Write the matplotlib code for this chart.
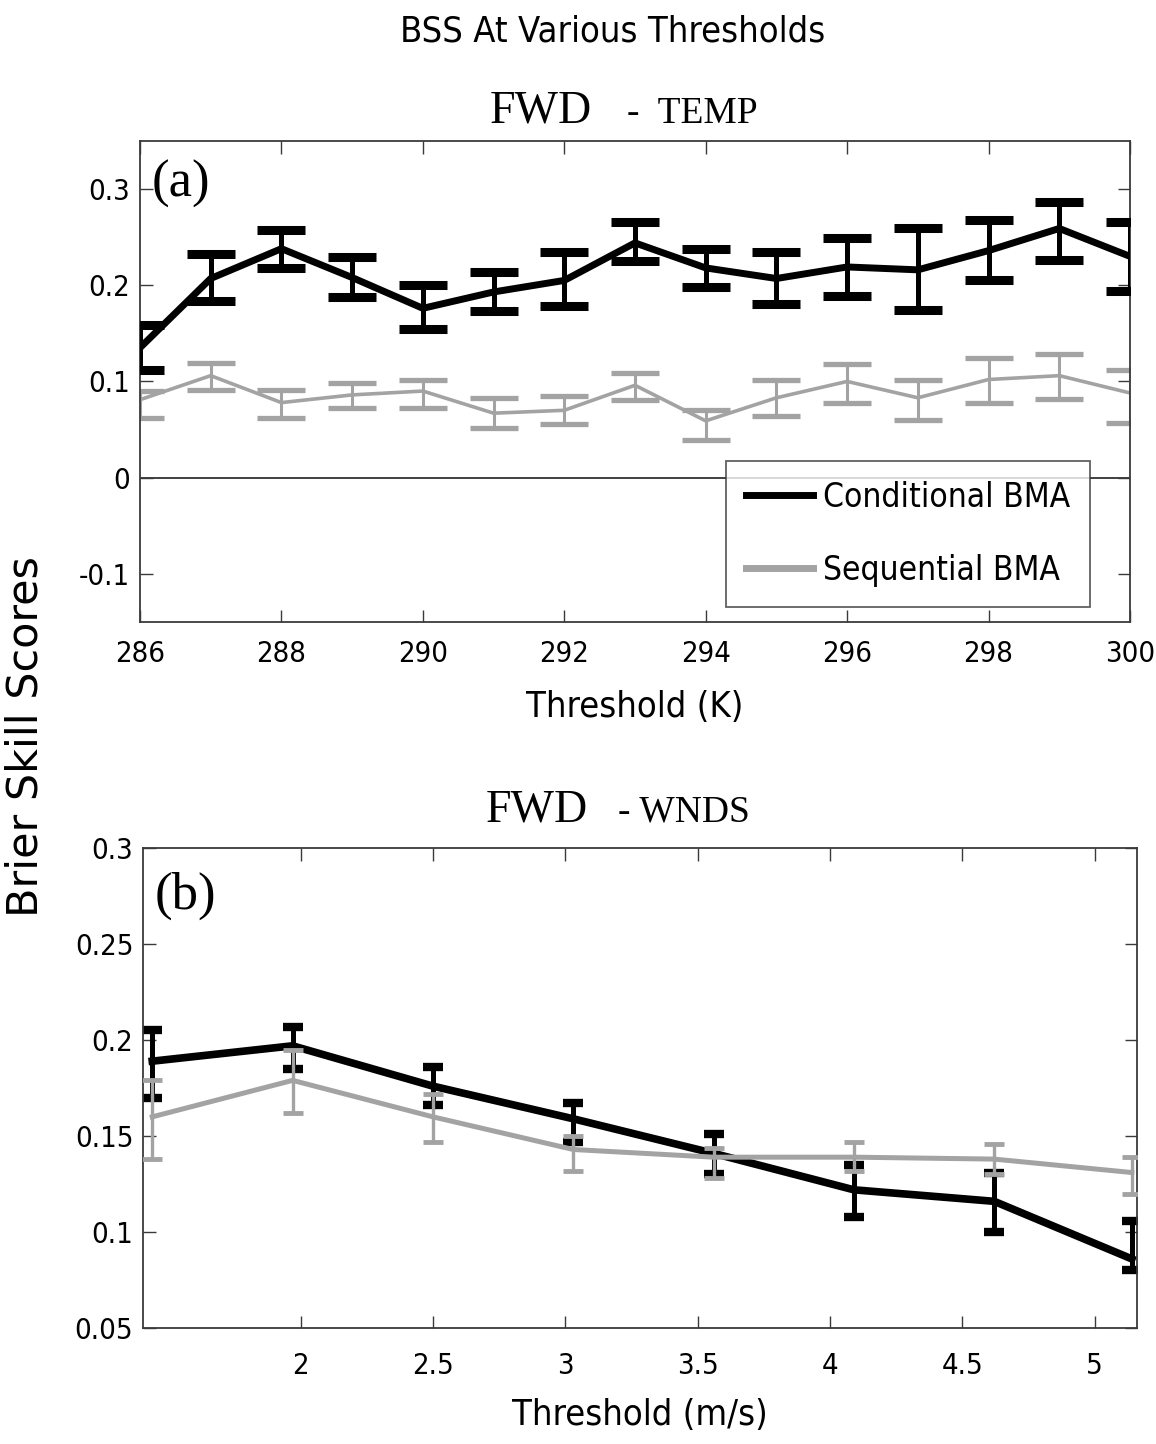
import matplotlib
matplotlib.use('Agg')
import matplotlib.pyplot as plt
import matplotlib.font_manager as fm
from matplotlib.lines import Line2D
import numpy as np

SERIF = ['Liberation Serif', 'DejaVu Serif']

# panel (a): temperature thresholds (K)
temp_x = [286, 287, 288, 289, 290, 291, 292, 293, 294, 295, 296, 297, 298, 299, 300]
cond_temp = [0.135, 0.207, 0.238, 0.208, 0.176, 0.193, 0.205, 0.244, 0.218, 0.207, 0.219, 0.216, 0.236, 0.259, 0.230]
cond_temp_lo = [0.112, 0.184, 0.218, 0.188, 0.155, 0.173, 0.178, 0.225, 0.198, 0.181, 0.189, 0.174, 0.205, 0.226, 0.194]
cond_temp_hi = [0.159, 0.232, 0.257, 0.229, 0.200, 0.214, 0.235, 0.266, 0.238, 0.235, 0.249, 0.260, 0.268, 0.287, 0.266]
seq_temp = [0.081, 0.106, 0.078, 0.086, 0.090, 0.067, 0.070, 0.096, 0.059, 0.083, 0.100, 0.083, 0.102, 0.106, 0.088]
seq_temp_lo = [0.062, 0.091, 0.062, 0.072, 0.072, 0.052, 0.056, 0.081, 0.039, 0.064, 0.078, 0.060, 0.078, 0.082, 0.057]
seq_temp_hi = [0.090, 0.119, 0.091, 0.098, 0.101, 0.083, 0.085, 0.109, 0.070, 0.101, 0.118, 0.101, 0.124, 0.128, 0.112]

# panel (b): wind speed thresholds (m/s)
wind_x = [1.44, 1.97, 2.50, 3.03, 3.56, 4.09, 4.62, 5.14]
cond_wind = [0.189, 0.197, 0.176, 0.159, 0.141, 0.122, 0.116, 0.086]
cond_wind_lo = [0.170, 0.185, 0.166, 0.147, 0.130, 0.108, 0.100, 0.080]
cond_wind_hi = [0.205, 0.207, 0.186, 0.167, 0.151, 0.135, 0.131, 0.106]
seq_wind = [0.160, 0.179, 0.160, 0.143, 0.139, 0.139, 0.138, 0.131]
seq_wind_lo = [0.138, 0.162, 0.147, 0.132, 0.128, 0.132, 0.130, 0.120]
seq_wind_hi = [0.179, 0.195, 0.172, 0.150, 0.144, 0.147, 0.146, 0.139]

temp_xticks = [286, 288, 290, 292, 294, 296, 298, 300]
temp_yticks = [-0.1, 0, 0.1, 0.2, 0.3]
temp_ylabels = ['-0.1', '0', '0.1', '0.2', '0.3']
wind_xticks = [2, 2.5, 3, 3.5, 4, 4.5, 5]
wind_xlabels = ['2', '2.5', '3', '3.5', '4', '4.5', '5']
wind_yticks = [0.05, 0.1, 0.15, 0.2, 0.25, 0.3]
wind_ylabels = ['0.05', '0.1', '0.15', '0.2', '0.25', '0.3']

BLACK = '#000000'
GRAY = '#a3a3a3'


def narrow_font():
    # the reference uses a condensed Helvetica; take any condensed face we have
    prefs = ['Liberation Sans Narrow', 'DejaVu Sans', 'Roboto', 'Open Sans',
             'Noto Sans', 'Inter', 'Lato']
    entries = fm.fontManager.ttflist
    for name in prefs:
        for f in entries:
            cond = 'Narrow' in f.name or str(f.stretch) in ('condensed', 'semi-condensed', 'extra-condensed')
            if f.name == name and cond and f.style == 'normal' and f.weight in (400, 'normal', 'regular'):
                return f.fname
    return None


NARROW_FILE = narrow_font()


def nfont(size):
    if NARROW_FILE:
        return fm.FontProperties(fname=NARROW_FILE, size=size)
    return fm.FontProperties(family=['Liberation Sans', 'DejaVu Sans'], size=size * 0.92)


def yerr(y, lo, hi):
    y, lo, hi = np.array(y), np.array(lo), np.array(hi)
    return [y - lo, hi - y]


def style_axes(ax, xticks, xlabels, yticks, ylabels, xpad):
    for s in ax.spines.values():
        s.set_color('#3a3a3a')
        s.set_linewidth(1.3)
    ax.set_xticks(xticks)
    ax.set_xticklabels(xlabels, fontproperties=nfont(21))
    ax.set_yticks(yticks)
    ax.set_yticklabels(ylabels, fontproperties=nfont(21))
    ax.tick_params(direction='in', length=9, width=1.0, color='#3a3a3a',
                   top=True, right=True)
    ax.tick_params(axis='x', pad=xpad)
    ax.tick_params(axis='y', pad=7)


fig = plt.figure(figsize=(11.56, 14.44), dpi=100)

# ---- panel (a)
ax1 = fig.add_axes([0.1211, 0.5693, 0.8564, 0.3331])
ax1.axhline(0, color='#202020', lw=1.2, zorder=1)
ax1.errorbar(temp_x, seq_temp, yerr=yerr(seq_temp, seq_temp_lo, seq_temp_hi),
             color=GRAY, lw=2.6, elinewidth=2.2, capsize=17, capthick=3.8, zorder=2)
ax1.errorbar(temp_x, cond_temp, yerr=yerr(cond_temp, cond_temp_lo, cond_temp_hi),
             color=BLACK, lw=5, elinewidth=3.6, capsize=17, capthick=6.5, zorder=3)
ax1.set_xlim(286, 300)
ax1.set_ylim(-0.15, 0.35)
style_axes(ax1, temp_xticks, [str(t) for t in temp_xticks], temp_yticks, temp_ylabels, 13)
ax1.set_xlabel('Threshold (K)', fontproperties=nfont(26), labelpad=16)
ax1.text(0.012, 0.96, '(a)', transform=ax1.transAxes, family=SERIF, fontsize=38,
         va='top', ha='left')

handles = [Line2D([], [], color=BLACK, lw=5), Line2D([], [], color=GRAY, lw=5)]
leg = ax1.legend(handles, ['Conditional BMA', 'Sequential BMA'], loc='lower right',
                 bbox_to_anchor=(0.9596, 0.031), frameon=True, fancybox=False,
                 prop=nfont(24), handlelength=2.0,
                 handletextpad=0.3, labelspacing=1.2, borderpad=0.6,
                 borderaxespad=0)
leg.get_frame().set_edgecolor('#3a3a3a')
leg.get_frame().set_linewidth(1.3)

# ---- panel (b)
ax2 = fig.add_axes([0.1237, 0.0803, 0.8600, 0.3324])
ax2.errorbar(wind_x, cond_wind, yerr=yerr(cond_wind, cond_wind_lo, cond_wind_hi),
             color=BLACK, lw=5.5, elinewidth=3.6, capsize=7, capthick=6, zorder=2)
ax2.errorbar(wind_x, seq_wind, yerr=yerr(seq_wind, seq_wind_lo, seq_wind_hi),
             color=GRAY, lw=3.6, elinewidth=2.4, capsize=7, capthick=3.5, zorder=3)
ax2.set_xlim(1.405, 5.16)
ax2.set_ylim(0.05, 0.30)
style_axes(ax2, wind_xticks, wind_xlabels, wind_yticks, wind_ylabels, 17)
ax2.set_xlabel('Threshold (m/s)', fontproperties=nfont(26), labelpad=13)
ax2.text(0.012, 0.95, '(b)', transform=ax2.transAxes, family=SERIF, fontsize=38,
         va='top', ha='left')

# ---- titles and shared label
fig.text(0.53, 0.978, 'BSS At Various Thresholds', fontproperties=nfont(26),
         ha='center', va='center')
fig.text(0.468, 0.915, 'FWD', family=SERIF, fontsize=33, ha='center', va='baseline')
fig.text(0.542, 0.915, '-  TEMP', family=SERIF, fontsize=27, ha='left', va='baseline')
fig.text(0.464, 0.431, 'FWD', family=SERIF, fontsize=33, ha='center', va='baseline')
fig.text(0.535, 0.431, '- WNDS', family=SERIF, fontsize=27, ha='left', va='baseline')
fig.text(0.022, 0.49, 'Brier Skill Scores', family='DejaVu Sans', fontsize=31,
         rotation=90, ha='center', va='center')

fig.savefig('out.png', dpi=100)
